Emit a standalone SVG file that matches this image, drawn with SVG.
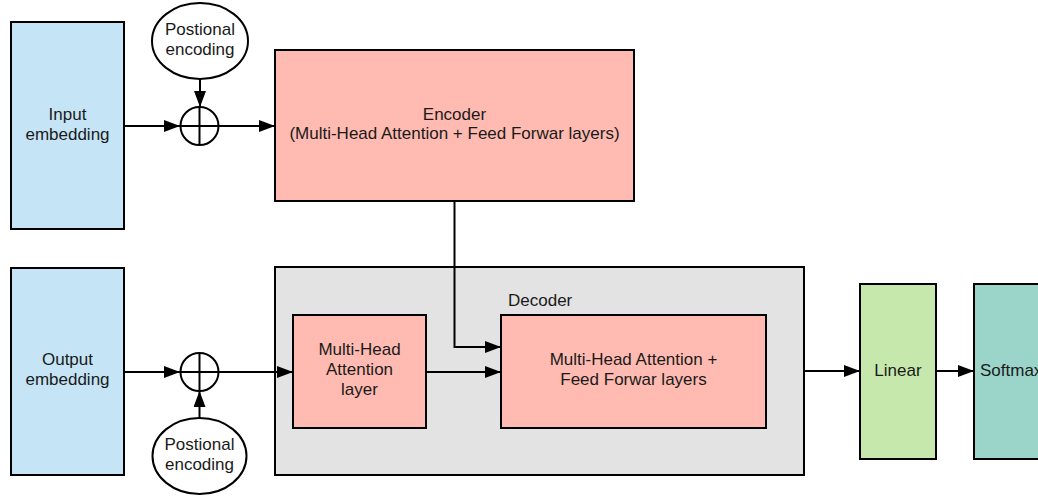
<svg xmlns="http://www.w3.org/2000/svg" width="1038" height="497" viewBox="0 0 1038 497">
  <style>
    .box { stroke: #000; stroke-width: 2; }
    .emb { fill: #c5e5f6; }
    .att { fill: #ffbbb1; }
    .dec { fill: #e3e3e3; }
    .lin { fill: #c7e8ac; }
    .soft { fill: #9bd5ca; }
    .oval { fill: #fff; stroke: #000; stroke-width: 2; }
    .lbl { font-family: "Liberation Sans", Arial, sans-serif; font-size: 17px; fill: #1a1a1a; text-anchor: middle; }
    .wire { fill: none; stroke: #000; stroke-width: 2; }
  </style>
  <defs>
    <marker id="arrow" viewBox="0 0 16 12" refX="16" refY="6" markerWidth="16" markerHeight="12" markerUnits="userSpaceOnUse" orient="auto">
      <path d="M0,0 L16,6 L0,12 Z" fill="#000"/>
    </marker>
  </defs>

  <!-- encoder branch -->
  <g id="input-embedding">
    <rect class="box emb" x="11" y="22" width="113" height="207"/>
    <text class="lbl" x="67.5" y="120">Input</text>
    <text class="lbl" x="67.5" y="140">embedding</text>
  </g>
  <g id="pos-enc-top">
    <ellipse class="oval" cx="200" cy="41" rx="48" ry="38"/>
    <text class="lbl" x="200" y="35">Postional</text>
    <text class="lbl" x="200" y="55">encoding</text>
  </g>
  <g id="sum-top">
    <circle class="oval" cx="199.5" cy="126" r="19"/>
    <path class="wire" d="M180.5,126 H218.5 M199.5,107 V145"/>
  </g>
  <g id="encoder">
    <rect class="box att" x="275" y="50" width="359" height="151"/>
    <text class="lbl" x="454.5" y="120">Encoder</text>
    <text class="lbl" x="454.5" y="139">(Multi-Head Attention + Feed Forwar layers)</text>
  </g>

  <!-- decoder branch -->
  <g id="output-embedding">
    <rect class="box emb" x="11" y="268" width="113" height="207"/>
    <text class="lbl" x="67.5" y="365">Output</text>
    <text class="lbl" x="67.5" y="385">embedding</text>
  </g>
  <g id="pos-enc-bottom">
    <ellipse class="oval" cx="199.5" cy="456" rx="47" ry="38"/>
    <text class="lbl" x="199.5" y="450">Postional</text>
    <text class="lbl" x="199.5" y="470">encoding</text>
  </g>
  <g id="sum-bottom">
    <circle class="oval" cx="199.5" cy="372" r="19"/>
    <path class="wire" d="M180.5,372 H218.5 M199.5,353 V391"/>
  </g>
  <g id="decoder">
    <rect class="box dec" x="275" y="267" width="529" height="208"/>
    <text class="lbl" x="508" y="306" style="text-anchor:start">Decoder</text>
  </g>
  <g id="self-attention">
    <rect class="box att" x="293" y="315" width="133" height="113"/>
    <text class="lbl" x="359.5" y="355">Multi-Head</text>
    <text class="lbl" x="359.5" y="375">Attention</text>
    <text class="lbl" x="359.5" y="395">layer</text>
  </g>
  <g id="cross-attention">
    <rect class="box att" x="501" y="315" width="265" height="113"/>
    <text class="lbl" x="633.5" y="365">Multi-Head Attention +</text>
    <text class="lbl" x="633.5" y="385">Feed Forwar layers</text>
  </g>
  <g id="linear">
    <rect class="box lin" x="860" y="284" width="76" height="175"/>
    <text class="lbl" x="898" y="376">Linear</text>
  </g>
  <g id="softmax">
    <rect class="box soft" x="974" y="284" width="80" height="175"/>
    <text class="lbl" x="980" y="376" style="text-anchor:start">Softmax</text>
  </g>

  <!-- connectors -->
  <g id="connectors">
    <path class="wire" d="M124,126 H180" marker-end="url(#arrow)"/>
    <path class="wire" d="M200,79 V107" marker-end="url(#arrow)"/>
    <path class="wire" d="M218.5,126 H275" marker-end="url(#arrow)"/>
    <path class="wire" d="M124,372 H180" marker-end="url(#arrow)"/>
    <path class="wire" d="M199.5,418 V391" marker-end="url(#arrow)"/>
    <path class="wire" d="M218.5,372 H293" marker-end="url(#arrow)"/>
    <path class="wire" d="M426,372 H501" marker-end="url(#arrow)"/>
    <path class="wire" d="M454.5,201 V347 H501" marker-end="url(#arrow)"/>
    <path class="wire" d="M804,371 H860" marker-end="url(#arrow)"/>
    <path class="wire" d="M936,371 H974" marker-end="url(#arrow)"/>
  </g>
</svg>
